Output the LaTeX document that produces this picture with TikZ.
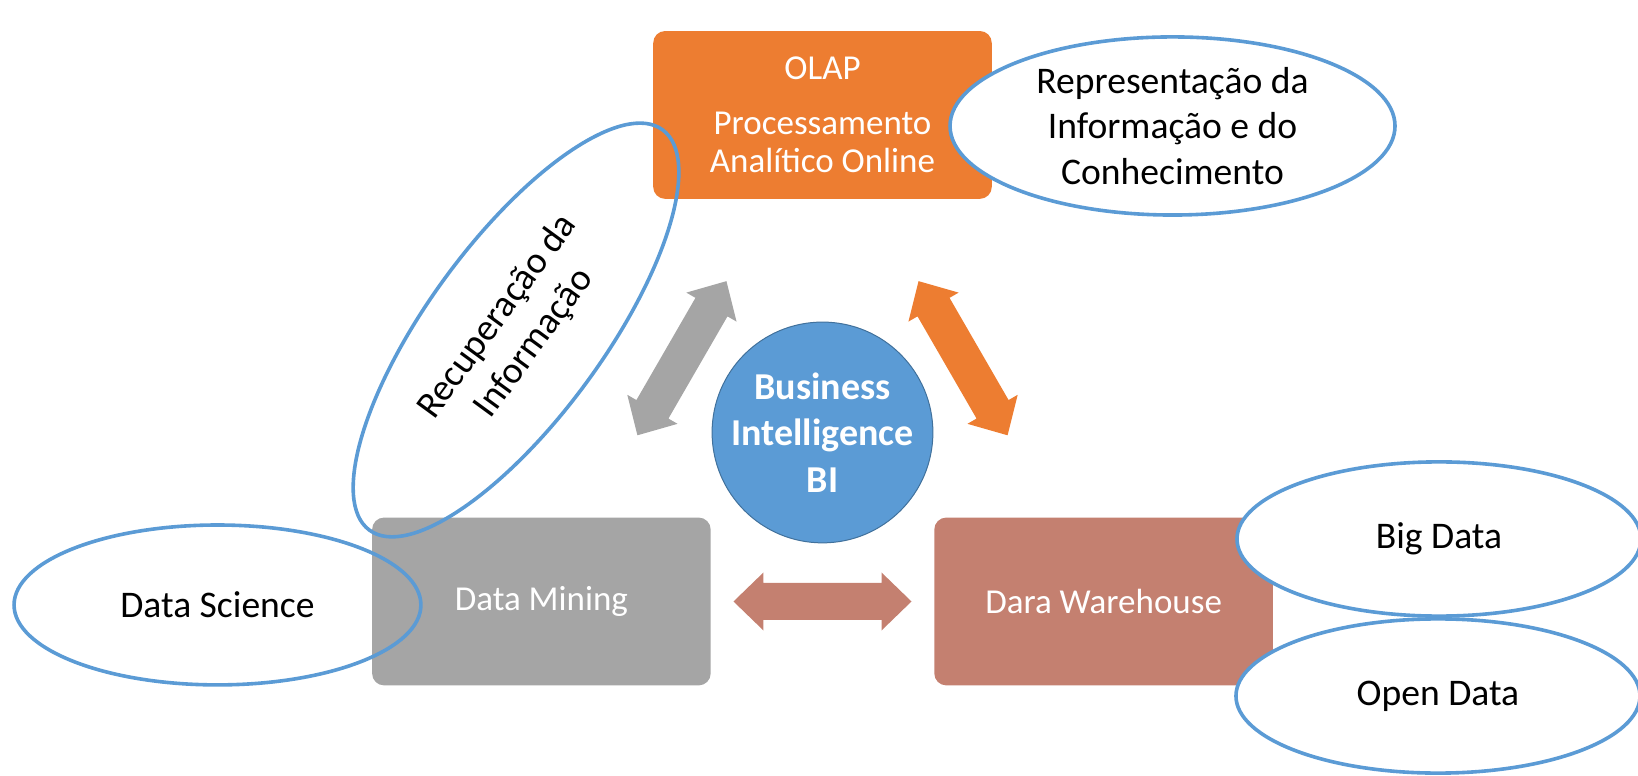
\documentclass[tikz,border=0pt]{standalone}
\usepackage{fontspec}
\setmainfont{Carlito}
\usetikzlibrary{shapes.geometric,calc}
\definecolor{biOrange}{RGB}{237,125,49}
\definecolor{biGray}{RGB}{165,165,165}
\definecolor{biBrown}{RGB}{196,128,112}
\definecolor{biBlue}{RGB}{91,155,213}
\definecolor{biBlueDark}{RGB}{65,113,156}
\newcommand{\boxfont}{\fontsize{17.5pt}{19.3pt}\selectfont}
\newcommand{\topicfont}{\fontsize{18.8pt}{22.7pt}\selectfont}
\newcommand{\hubfont}{\fontsize{19pt}{23.2pt}\selectfont\bfseries}
% block arrow sizes
\newcommand{\arrHalf}{1.564cm}
\newcommand{\arrHead}{0.527cm}
\newcommand{\arrWide}{0.51cm}
\newcommand{\arrShaft}{0.325cm}
% #1,#2: the two nodes, #3: fill colour
\newcommand{\duplexarrow}[3]{%
  \coordinate (da-a) at ($(#1)!0.5!(#2)!\arrHalf!(#1)$);
  \coordinate (da-b) at ($(#1)!0.5!(#2)!\arrHalf!(#2)$);
  \fill[#3] (da-a)
    -- ($(da-a)!\arrHead!(da-b)!\arrWide!90:(da-b)$)
    -- ($(da-a)!\arrHead!(da-b)!\arrShaft!90:(da-b)$)
    -- ($(da-b)!\arrHead!(da-a)!\arrShaft!-90:(da-a)$)
    -- ($(da-b)!\arrHead!(da-a)!\arrWide!-90:(da-a)$)
    -- (da-b)
    -- ($(da-b)!\arrHead!(da-a)!\arrWide!90:(da-a)$)
    -- ($(da-b)!\arrHead!(da-a)!\arrShaft!90:(da-a)$)
    -- ($(da-a)!\arrHead!(da-b)!\arrShaft!-90:(da-b)$)
    -- ($(da-a)!\arrHead!(da-b)!\arrWide!-90:(da-b)$)
    -- cycle;
}

\begin{document}
\begin{tikzpicture}[
    box/.style={rectangle, rounded corners=6pt, minimum width=5.95cm,
                minimum height=2.95cm, text=white, font=\boxfont, align=center},
    hub/.style={circle, fill=biBlue, draw=biBlueDark, line width=0.5pt,
                minimum size=3.88cm, inner sep=0pt, text=white, font=\hubfont,
                align=center},
    topic/.style={ellipse, draw=biBlue, line width=1.8pt, inner sep=0pt,
                  font=\topicfont, align=center}
  ]
  \useasboundingbox (-14.454,-6.036) rectangle (14.331,7.600);

  % the three blocks round the hub
  \node[box, fill=biOrange] (olap) at (0,5.58)
    {OLAP\\[8pt]Processamento\\Analítico Online};
  \node[box, fill=biGray] (mining) at (-4.94,-2.97) {Data Mining};
  \node[box, fill=biBrown] (dwh) at (4.94,-2.97) {Dara Warehouse};

  \node[hub] (bi) at (0,0) {Business\\Intelligence\\BI};

  \duplexarrow{mining}{olap}{biGray}
  \duplexarrow{olap}{dwh}{biOrange}
  \duplexarrow{mining}{dwh}{biBrown}

  % related fields
  \node[topic, minimum width=7.15cm, minimum height=2.81cm] (dsci)
    at (-10.632,-3.031) {Data Science};
  \node[topic, rotate=53.8, minimum width=8.72cm, minimum height=3.09cm] (recup)
    at (-5.386,1.801) {Recuperação da\\Informação};
  \node[topic, fill=white, minimum width=7.82cm, minimum height=3.13cm] (repr)
    at (6.151,5.386) {Representação da\\Informação e do\\Conhecimento};
  \node[topic, fill=white, minimum width=7.10cm, minimum height=2.71cm] (bigd)
    at (10.834,-1.872) {Big Data};
  \node[topic, fill=white, minimum width=7.10cm, minimum height=2.71cm] (opend)
    at (10.816,-4.631) {Open Data};
\end{tikzpicture}
\end{document}
